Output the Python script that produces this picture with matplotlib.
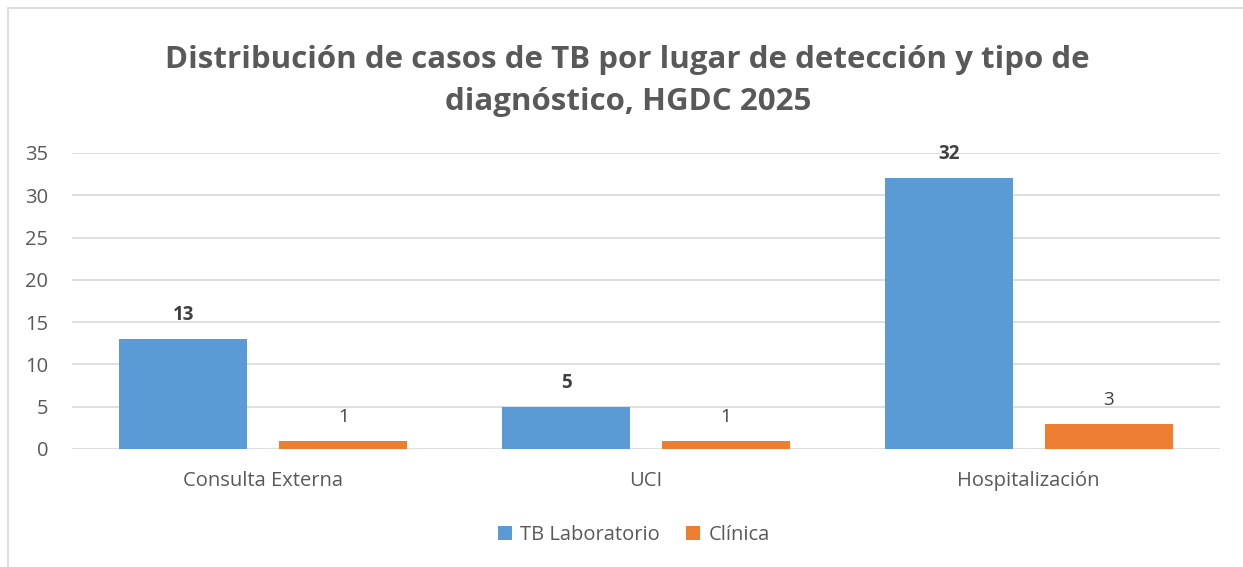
import matplotlib.pyplot as plt
import numpy as np
from matplotlib.patches import Rectangle

categories = ["Consulta Externa", "UCI", "Hospitalización"]
laboratorio = [13, 5, 32]
clinica = [1, 1, 3]
series_names = ["TB Laboratorio", "Clínica"]
title = "Distribución de casos de TB por lugar de detección y tipo de\ndiagnóstico, HGDC 2025"

blue = "#5B9BD5"
orange = "#ED7D31"
gray_text = "#595959"
grid_col = "#D9D9D9"

plt.rcParams['font.family'] = ['Open Sans', 'DejaVu Sans']

fig = plt.figure(figsize=(12.43, 5.67), dpi=100)
ax = fig.add_axes([72 / 1243, 1 - 449 / 567, 1148 / 1243, 296 / 567])

# chart border (only top/left visible in reference)
fig.patches.append(Rectangle((8 / 1243, -0.5), 2, 1 - 8 / 567 + 0.5,
                             transform=fig.transFigure, fill=False,
                             edgecolor=grid_col, linewidth=1.2))

x = np.arange(len(categories))
w = 0.334
off = 0.209
b1 = ax.bar(x - off, laboratorio, w, color=blue, label=series_names[0], zorder=3)
b2 = ax.bar(x + off, clinica, w, color=orange, label=series_names[1], zorder=3)

for rect, v in zip(b1, laboratorio):
    ax.annotate(str(v), (rect.get_x() + rect.get_width() / 2, v), xytext=(0, 24),
                textcoords="offset pixels", ha="center", va="center",
                fontsize=13.5, fontweight="bold", color="#404040")
for rect, v in zip(b2, clinica):
    ax.annotate(str(v), (rect.get_x() + rect.get_width() / 2, v), xytext=(0, 24),
                textcoords="offset pixels", ha="center", va="center",
                fontsize=13.5, color="#404040")

ax.set_xlim(-0.5, 2.5)
ax.set_ylim(0, 35)
ax.set_yticks(range(0, 36, 5))
ax.set_xticks(x)
ax.set_xticklabels(categories)
ax.yaxis.grid(True, color=grid_col, linewidth=1.2, zorder=0)
ax.set_axisbelow(True)
for s in ax.spines.values():
    s.set_visible(False)
ax.tick_params(axis="both", length=0, labelsize=14.5, colors=gray_text)
ax.tick_params(axis="x", pad=16)
ax.tick_params(axis="y", pad=17)

fig.text(0.505, 1 - 81 / 567, title, ha="center", va="center", fontsize=22.5,
         fontweight="bold", color=gray_text, linespacing=1.55)

fig.legend(loc="center", bbox_to_anchor=(634 / 1243, 1 - 535 / 567), ncol=2,
           frameon=False, fontsize=14.5, labelcolor=gray_text, handlelength=0.7,
           handleheight=0.7, handletextpad=0.4, columnspacing=1.3)

fig.savefig("out.png", dpi=100, facecolor="white")
